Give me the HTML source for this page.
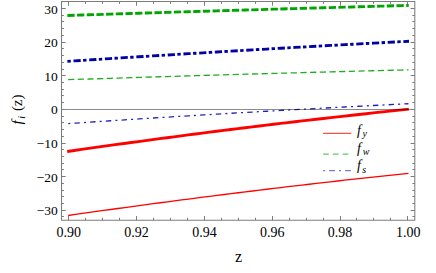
<!DOCTYPE html>
<html><head><meta charset="utf-8"><title>plot</title>
<style>html,body{margin:0;padding:0;background:#fff;}body{width:436px;height:273px;overflow:hidden;font-family:"Liberation Serif",serif;}svg{display:block}</style>
</head><body>
<svg width="436" height="273" viewBox="0 0 436 273">
<rect width="436" height="273" fill="#fff"/>
<path d="M61.5 1.5H414.8V220.15H61.5Z" fill="none" stroke="#7c7c7c" stroke-width="1.05"/>
<path d="M68.5 220.15V215.95M68.5 1.5V5.70M85.5 220.15V217.75M85.5 1.5V3.90M102.5 220.15V217.75M102.5 1.5V3.90M119.5 220.15V217.75M119.5 1.5V3.90M136.5 220.15V215.95M136.5 1.5V5.70M153.5 220.15V217.75M153.5 1.5V3.90M170.5 220.15V217.75M170.5 1.5V3.90M187.5 220.15V217.75M187.5 1.5V3.90M204.5 220.15V215.95M204.5 1.5V5.70M221.5 220.15V217.75M221.5 1.5V3.90M238.5 220.15V217.75M238.5 1.5V3.90M255.5 220.15V217.75M255.5 1.5V3.90M272.5 220.15V215.95M272.5 1.5V5.70M289.5 220.15V217.75M289.5 1.5V3.90M306.5 220.15V217.75M306.5 1.5V3.90M323.5 220.15V217.75M323.5 1.5V3.90M340.5 220.15V215.95M340.5 1.5V5.70M356.5 220.15V217.75M356.5 1.5V3.90M373.5 220.15V217.75M373.5 1.5V3.90M390.5 220.15V217.75M390.5 1.5V3.90M407.5 220.15V215.95M407.5 1.5V5.70M61.5 216.5H63.90M414.8 216.5H412.40M61.5 210.5H65.70M414.8 210.5H410.60M61.5 203.5H63.90M414.8 203.5H412.40M61.5 196.5H63.90M414.8 196.5H412.40M61.5 190.5H63.90M414.8 190.5H412.40M61.5 183.5H63.90M414.8 183.5H412.40M61.5 176.5H65.70M414.8 176.5H410.60M61.5 169.5H63.90M414.8 169.5H412.40M61.5 163.5H63.90M414.8 163.5H412.40M61.5 156.5H63.90M414.8 156.5H412.40M61.5 149.5H63.90M414.8 149.5H412.40M61.5 143.5H65.70M414.8 143.5H410.60M61.5 136.5H63.90M414.8 136.5H412.40M61.5 129.5H63.90M414.8 129.5H412.40M61.5 122.5H63.90M414.8 122.5H412.40M61.5 116.5H63.90M414.8 116.5H412.40M61.5 109.5H65.70M414.8 109.5H410.60M61.5 102.5H63.90M414.8 102.5H412.40M61.5 95.5H63.90M414.8 95.5H412.40M61.5 89.5H63.90M414.8 89.5H412.40M61.5 82.5H63.90M414.8 82.5H412.40M61.5 75.5H65.70M414.8 75.5H410.60M61.5 69.5H63.90M414.8 69.5H412.40M61.5 62.5H63.90M414.8 62.5H412.40M61.5 55.5H63.90M414.8 55.5H412.40M61.5 48.5H63.90M414.8 48.5H412.40M61.5 42.5H65.70M414.8 42.5H410.60M61.5 35.5H63.90M414.8 35.5H412.40M61.5 28.5H63.90M414.8 28.5H412.40M61.5 21.5H63.90M414.8 21.5H412.40M61.5 15.5H63.90M414.8 15.5H412.40M61.5 8.5H65.70M414.8 8.5H410.60M61.5 1.5H63.90M414.8 1.5H412.40" fill="none" stroke="#7c7c7c" stroke-width="1"/>
<path d="M67.40 15.47 L74.51 15.24 L81.62 15.02 L88.74 14.79 L95.85 14.57 L102.96 14.35 L110.07 14.12 L117.19 13.90 L124.30 13.68 L131.41 13.46 L138.53 13.24 L145.64 13.02 L152.75 12.80 L159.86 12.59 L166.97 12.37 L174.09 12.15 L181.20 11.94 L188.31 11.72 L195.43 11.51 L202.54 11.30 L209.65 11.08 L216.76 10.87 L223.88 10.66 L230.99 10.45 L238.10 10.24 L245.21 10.03 L252.32 9.82 L259.44 9.61 L266.55 9.40 L273.66 9.19 L280.77 8.99 L287.89 8.78 L295.00 8.58 L302.11 8.37 L309.22 8.17 L316.34 7.96 L323.45 7.76 L330.56 7.56 L337.67 7.36 L344.79 7.16 L351.90 6.96 L359.01 6.76 L366.12 6.56 L373.24 6.36 L380.35 6.16 L387.46 5.97 L394.58 5.77 L401.69 5.58 L408.80 5.38" fill="none" stroke="#00a500" stroke-width="2.85" pathLength="341.40" stroke-dasharray="7.25 2.429"/>
<path d="M67.40 61.34 L74.52 60.88 L81.63 60.41 L88.75 59.95 L95.87 59.49 L102.98 59.03 L110.10 58.58 L117.22 58.12 L124.33 57.67 L131.45 57.22 L138.57 56.78 L145.68 56.33 L152.80 55.89 L159.92 55.44 L167.03 55.01 L174.15 54.57 L181.27 54.13 L188.38 53.70 L195.50 53.27 L202.62 52.84 L209.73 52.41 L216.85 51.99 L223.97 51.56 L231.08 51.14 L238.20 50.72 L245.32 50.30 L252.43 49.89 L259.55 49.48 L266.67 49.06 L273.78 48.65 L280.90 48.25 L288.02 47.84 L295.13 47.44 L302.25 47.04 L309.37 46.64 L316.48 46.24 L323.60 45.85 L330.72 45.45 L337.83 45.06 L344.95 44.67 L352.07 44.29 L359.18 43.90 L366.30 43.52 L373.42 43.14 L380.53 42.76 L387.65 42.38 L394.77 42.00 L401.88 41.63 L409.00 41.26" fill="none" stroke="#0000a5" stroke-width="2.85" pathLength="341.60" stroke-dasharray="3.4 2.7 7.2 2.41"/>
<path d="M68.10 79.67 L75.19 79.44 L82.28 79.21 L89.38 78.98 L96.47 78.75 L103.56 78.52 L110.65 78.30 L117.74 78.07 L124.83 77.85 L131.92 77.63 L139.02 77.40 L146.11 77.18 L153.20 76.96 L160.29 76.75 L167.38 76.53 L174.47 76.31 L181.57 76.10 L188.66 75.89 L195.75 75.67 L202.84 75.46 L209.93 75.25 L217.02 75.04 L224.12 74.84 L231.21 74.63 L238.30 74.42 L245.39 74.22 L252.48 74.02 L259.57 73.82 L266.67 73.62 L273.76 73.42 L280.85 73.22 L287.94 73.02 L295.03 72.83 L302.12 72.63 L309.22 72.44 L316.31 72.25 L323.40 72.05 L330.49 71.86 L337.58 71.68 L344.67 71.49 L351.77 71.30 L358.86 71.12 L365.95 70.93 L373.04 70.75 L380.13 70.57 L387.22 70.39 L394.32 70.21 L401.41 70.03 L408.50 69.85" fill="none" stroke="#1fae1f" stroke-width="1.3" pathLength="340.40" stroke-dasharray="6.2 3.479"/>
<path d="M68.30 123.58 L75.39 123.10 L82.47 122.63 L89.56 122.15 L96.64 121.68 L103.73 121.21 L110.81 120.75 L117.90 120.29 L124.98 119.83 L132.07 119.37 L139.15 118.92 L146.24 118.47 L153.32 118.02 L160.41 117.57 L167.50 117.13 L174.58 116.69 L181.67 116.25 L188.75 115.82 L195.84 115.39 L202.92 114.96 L210.01 114.53 L217.09 114.11 L224.18 113.69 L231.26 113.27 L238.35 112.86 L245.44 112.45 L252.52 112.04 L259.61 111.63 L266.69 111.23 L273.78 110.83 L280.86 110.43 L287.95 110.04 L295.03 109.65 L302.12 109.26 L309.20 108.87 L316.29 108.49 L323.37 108.11 L330.46 107.73 L337.55 107.35 L344.63 106.98 L351.72 106.61 L358.80 106.25 L365.89 105.88 L372.97 105.52 L380.06 105.16 L387.14 104.81 L394.23 104.46 L401.31 104.11 L408.40 103.76" fill="none" stroke="#2222bb" stroke-width="1.3" pathLength="340.10" stroke-dasharray="2.0 4.15 5.4 4.16"/>
<path d="M67.20 151.49 L74.32 150.47 L81.43 149.45 L88.55 148.44 L95.67 147.44 L102.78 146.44 L109.90 145.45 L117.02 144.46 L124.13 143.48 L131.25 142.51 L138.37 141.54 L145.48 140.58 L152.60 139.62 L159.72 138.67 L166.83 137.73 L173.95 136.79 L181.07 135.85 L188.18 134.93 L195.30 134.01 L202.42 133.09 L209.53 132.18 L216.65 131.28 L223.77 130.39 L230.88 129.49 L238.00 128.61 L245.12 127.73 L252.23 126.86 L259.35 125.99 L266.47 125.13 L273.58 124.28 L280.70 123.43 L287.82 122.59 L294.93 121.75 L302.05 120.92 L309.17 120.09 L316.28 119.27 L323.40 118.46 L330.52 117.65 L337.63 116.85 L344.75 116.06 L351.87 115.27 L358.98 114.49 L366.10 113.71 L373.22 112.94 L380.33 112.17 L387.45 111.42 L394.57 110.66 L401.68 109.92 L408.80 109.17" fill="none" stroke="#ff0000" stroke-width="2.85"/>
<path d="M68.20 215.49 L75.29 214.48 L82.38 213.47 L89.46 212.46 L96.55 211.46 L103.64 210.47 L110.72 209.49 L117.81 208.50 L124.90 207.53 L131.99 206.56 L139.07 205.60 L146.16 204.64 L153.25 203.69 L160.34 202.74 L167.43 201.80 L174.51 200.87 L181.60 199.94 L188.69 199.02 L195.77 198.10 L202.86 197.19 L209.95 196.29 L217.04 195.39 L224.12 194.49 L231.21 193.61 L238.30 192.73 L245.39 191.85 L252.47 190.98 L259.56 190.12 L266.65 189.26 L273.74 188.41 L280.82 187.56 L287.91 186.72 L295.00 185.89 L302.09 185.06 L309.18 184.24 L316.26 183.42 L323.35 182.61 L330.44 181.81 L337.52 181.01 L344.61 180.22 L351.70 179.43 L358.79 178.65 L365.88 177.87 L372.96 177.10 L380.05 176.34 L387.14 175.58 L394.22 174.83 L401.31 174.08 L408.40 173.34" fill="none" stroke="#ff0000" stroke-width="1.3"/>
<line x1="65.7" y1="109.5" x2="410.6" y2="109.5" stroke="#000" stroke-opacity="0.45" stroke-width="1"/>
<g font-family="'Liberation Serif', serif" font-size="14" fill="#000" text-anchor="middle">
<text x="68.8" y="237.25">0.90</text>
<text x="136.5" y="237.25">0.92</text>
<text x="204.5" y="237.25">0.94</text>
<text x="272.3" y="237.25">0.96</text>
<text x="340" y="237.25">0.98</text>
<text x="408.2" y="237.25">1.00</text>
</g>
<g font-family="'Liberation Serif', serif" font-size="13.5" fill="#000" text-anchor="end">
<text x="57.8" y="215.25">−30</text>
<text x="57.8" y="181.62">−20</text>
<text x="57.8" y="148">−10</text>
<text x="57.8" y="114.4">0</text>
<text x="57.8" y="80.76">10</text>
<text x="57.8" y="47.14">20</text>
<text x="57.8" y="13.5">30</text>
</g>
<text x="238.6" y="261.9" font-family="'Liberation Serif', serif" font-size="16" fill="#000" text-anchor="middle">z</text>
<text transform="translate(22.0,125.6) rotate(-90)" font-family="'Liberation Serif', serif" font-size="15" fill="#000"><tspan x="1" y="0" font-style="italic">f</tspan><tspan x="6.8" y="2.7" font-size="10" font-style="italic">i</tspan><tspan x="14.6" y="0">(</tspan><tspan x="19.4" y="0">z</tspan><tspan x="26.2" y="0">)</tspan></text>
<line x1="323.1" y1="133.3" x2="351.3" y2="133.3" stroke="#ff2020" stroke-width="1.0"/>
<text font-family="'Liberation Serif', serif" font-size="14" fill="#000"><tspan x="357" y="135.4" font-style="italic">f</tspan><tspan x="362.5" y="137.4" font-size="10" font-style="italic">y</tspan></text>
<line x1="323.1" y1="154.0" x2="351.3" y2="154.0" stroke="#5cc95c" stroke-width="1.25" stroke-dasharray="5.7 4.05"/>
<text font-family="'Liberation Serif', serif" font-size="14" fill="#000"><tspan x="357" y="153.2" font-style="italic">f</tspan><tspan x="362.8" y="155.3" font-size="10" font-style="italic">w</tspan></text>
<line x1="323.1" y1="170.5" x2="351.3" y2="170.5" stroke="#7474dc" stroke-width="1.25" stroke-dasharray="2 4.1 5.7 4.1"/>
<text font-family="'Liberation Serif', serif" font-size="14" fill="#000"><tspan x="357" y="170" font-style="italic">f</tspan><tspan x="362.2" y="172.5" font-size="10" font-style="italic">s</tspan></text>
</svg>
</body></html>
